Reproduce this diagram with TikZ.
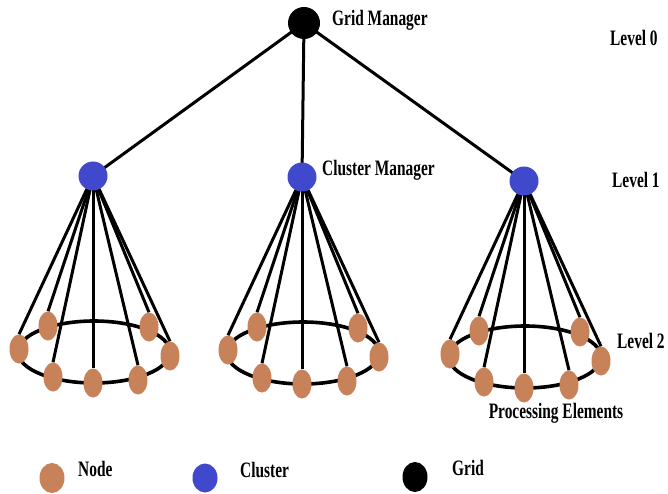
\documentclass[tikz,border=0pt]{standalone}
\usepackage{fontspec}
\setmainfont{Liberation Serif}[FakeStretch=0.7]
\usetikzlibrary{backgrounds,shapes.geometric}
\definecolor{pebrown}{RGB}{200,130,90}
\definecolor{cmblue}{RGB}{64,72,204}
\tikzset{
  pelem/.style={ellipse, fill=pebrown, minimum width=19pt, minimum height=29pt, inner sep=0pt},
  clmgr/.style={circle, fill=cmblue, minimum size=29pt, inner sep=0pt},
  gmgr/.style={circle, fill=black, minimum size=32pt, inner sep=0pt},
  link/.style={draw=black, line width=3pt},
  ring/.style={draw=black, line width=3.6pt},
  lab/.style={font=\bfseries\fontsize{22}{24}\selectfont, inner sep=0pt, anchor=west},
}
\begin{document}
\begin{tikzpicture}[x=1pt, y=-1pt]
\useasboundingbox (0,0) rectangle (668,494);
\begin{pgfonlayer}{background}
\fill[white] (0,0) rectangle (668,494);
\end{pgfonlayer}
% grid manager
\node[gmgr] (gm) at (304,23) {};
\node[lab] (gmlab) at (332,20) {Grid Manager};
% clusters
\foreach \c/\dx/\dy in {a/0/0, b/209/1, c/431/5} {
  \begin{scope}[shift={(\dx,\dy)}]
    \draw[ring] (94,352) ellipse [x radius=76, y radius=31];
    \node[pelem] (\c1) at (19,349) {};
    \node[pelem] (\c2) at (48,326) {};
    \node[pelem] (\c3) at (53,377) {};
    \node[pelem] (\c4) at (93,383) {};
    \node[pelem] (\c5) at (138,380) {};
    \node[pelem] (\c6) at (149,327) {};
    \node[pelem] (\c7) at (170,356) {};
    \node[clmgr] (\c h) at (93,176) {};
  \end{scope}
  \begin{pgfonlayer}{background}
    \foreach \i in {1,...,7} \draw[link] (\c h.center) -- (\c\i.north);
    \draw[link] (gm.center) -- (\c h.center);
  \end{pgfonlayer}
}
% labels
\node[lab] (l0) at (610,38) {Level 0};
\node[lab] (l1) at (612,180) {Level 1};
\node[lab] (l2) at (617,341) {Level 2};
\node[lab] (cmlab) at (322,170) {Cluster Manager};
\node[lab, anchor=center] (pelab) at (556,413) {Processing Elements};
% legend
\node[ellipse, fill=pebrown, minimum width=25pt, minimum height=30pt, inner sep=0pt] (lgn) at (52,478) {};
\node[lab] (lgnt) at (78,469) {Node};
\node[ellipse, fill=cmblue, minimum width=25pt, minimum height=29pt, inner sep=0pt] (lgc) at (205,478) {};
\node[lab] (lgct) at (240,470) {Cluster};
\node[ellipse, fill=black, minimum width=25pt, minimum height=30pt, inner sep=0pt] (lgg) at (415,477) {};
\node[lab] (lggt) at (452,468) {Grid};
\end{tikzpicture}
\end{document}
